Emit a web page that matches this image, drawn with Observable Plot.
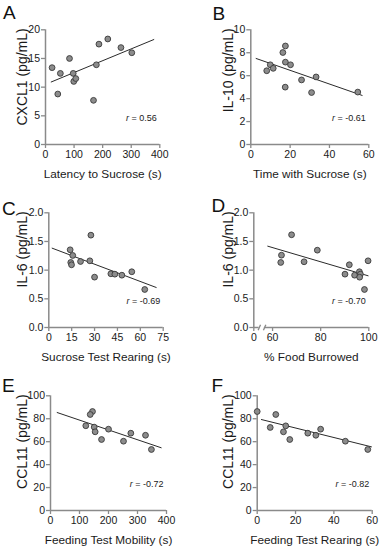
<!DOCTYPE html>
<html><head><meta charset="utf-8">
<script src="https://cdn.jsdelivr.net/npm/d3@7"></script>
<script src="https://cdn.jsdelivr.net/npm/@observablehq/plot@0.6"></script>
<style>
body{margin:0;background:#fff;}
#fig{position:relative;width:382px;height:550px;font-family:"Liberation Sans",Arial,sans-serif;overflow:hidden;}
.panel{position:absolute;}
.letter{position:absolute;font-size:19px;line-height:1;color:#111;font-family:"Liberation Sans",Arial,sans-serif;}
</style></head><body><div id="fig"></div>
<script>
// ---------- data ----------
const panelLetters = ["A", "B", "C", "D", "E", "F"];
const xLabels = ["Latency to Sucrose (s)", "Time with Sucrose (s)", "Sucrose Test Rearing (s)", "% Food Burrowed", "Feeding Test Mobility (s)", "Feeding Test Rearing (s)"];
const yLabels = ["CXCL1 (pg/mL)", "IL-10 (pg/mL)", "IL-6 (pg/mL)", "IL-6 (pg/mL)", "CCL11 (pg/mL)", "CCL11 (pg/mL)"];
const rValues = ["0.56", "-0.61", "-0.69", "-0.70", "-0.72", "-0.82"];

// A
const latencyA = [23, 43, 52, 84, 97, 99, 106, 168, 178, 187, 218, 264, 302];
const cxcl1A   = [13.4, 8.8, 12.4, 15.0, 12.4, 11.0, 11.5, 7.7, 13.9, 17.5, 18.4, 16.9, 16.0];
const fitXA = [20, 379], fitYA = [10.9, 18.3];
// B
const timeB = [8.1, 9.9, 11.4, 16.3, 17.6, 17.6, 17.5, 20.2, 25.8, 30.9, 33.2, 54.4];
const il10B = [6.43, 6.95, 6.64, 8.02, 8.59, 7.18, 5.0, 6.95, 5.63, 4.53, 5.89, 4.57];
const fitXB = [2.7, 56.6], fitYB = [7.5, 4.28];
// C
const rearingC = [14.0, 15.7, 14.4, 14.9, 20.8, 26.9, 27.6, 30.0, 40.7, 43.3, 47.9, 54.4, 62.9];
const il6C     = [1.355, 1.256, 1.134, 1.093, 1.151, 1.163, 1.61, 0.878, 0.937, 0.93, 0.912, 0.972, 0.663];
const fitXC = [2.2, 70.4], fitYC = [1.383, 0.698];
// D
const burrowD = [67.9, 63.7, 63.4, 73.1, 78.6, 91.9, 90.1, 94.1, 96.1, 96.5, 96.2, 99.7, 98.2];
const il6D    = [1.617, 1.261, 1.134, 1.146, 1.348, 1.094, 0.93, 0.912, 0.972, 0.93, 0.877, 1.163, 0.663];
const fitXD = [58.0, 99.7], fitYD = [1.418, 0.902];
// E
const mobilityE = [144.8, 137, 121.7, 150.7, 154, 176, 200, 251.7, 277, 327.6, 348];
const ccl11E    = [86.3, 83.7, 73.9, 72.7, 68.6, 61.9, 70.9, 60.4, 67.4, 65.6, 53.2];
const fitXE = [23, 381.6], fitYE = [85.4, 54.7];
// F
const rearingF = [0, 9.7, 6.8, 14.9, 13.7, 17.0, 26.4, 30.6, 33.1, 46.0, 57.7];
const ccl11F   = [86.3, 83.7, 72.4, 73.8, 68.6, 61.9, 67.4, 65.6, 70.9, 60.4, 53.2];
const fitXF = [2.2, 59.6], fitYF = [79.3, 55.5];

// axes
const xTicksA = [0, 100, 200, 300, 400], xTickLabelsA = ["0", "100", "200", "300", "400"];
const yTicksA = [0, 5, 10, 15, 20], yTickLabelsA = ["0", "5", "10", "15", "20"];
const xTicksB = [0, 20, 40, 60], xTickLabelsB = ["0", "20", "40", "60"];
const yTicksB = [0, 2, 4, 6, 8, 10], yTickLabelsB = ["0", "2", "4", "6", "8", "10"];
const xTicksC = [0, 15, 30, 45, 60, 75], xTickLabelsC = ["0", "15", "30", "45", "60", "75"];
const yTicksC = [0, 0.5, 1, 1.5, 2], yTickLabelsC = ["0.0", "0.5", "1.0", "1.5", "2.0"];
const xTicksD = [52.2, 60, 80, 100], xTickLabelsD = ["0", "60", "80", "100"];
const yTicksD = [0, 0.5, 1, 1.5, 2], yTickLabelsD = ["0.0", "0.5", "1.0", "1.5", "2.0"];
const xTicksE = [0, 100, 200, 300, 400], xTickLabelsE = ["0", "100", "200", "300", "400"];
const yTicksE = [0, 20, 40, 60, 80, 100], yTickLabelsE = ["0", "20", "40", "60", "80", "100"];
const xTicksF = [0, 20, 40, 60], xTickLabelsF = ["0", "20", "40", "60"];
const yTicksF = [0, 20, 40, 60, 80, 100], yTickLabelsF = ["0", "20", "40", "60", "80", "100"];
// broken x axis in D (axis pieces and the two break strokes, in data units)
const axisPiecesD = [[52.2, 54.4], [56.6, 100]];
const breakStrokesD = [[54.0, -0.05, 55.0, 0.05], [56.2, -0.05, 57.2, 0.05]];

// ---------- layout ----------
const PW = 191, PH = 183;
const panels = [
  {x: latencyA, y: cxcl1A, fx: fitXA, fy: fitYA, xt: xTicksA, xl: xTickLabelsA, yt: yTicksA, yl: yTickLabelsA, ml: 45, mr: 31.7, labX: 22},
  {x: timeB, y: il10B, fx: fitXB, fy: fitYB, xt: xTicksB, xl: xTickLabelsB, yt: yTicksB, yl: yTickLabelsB, ml: 59.3, mr: 13.7, labX: 37.3},
  {x: rearingC, y: il6C, fx: fitXC, fy: fitYC, xt: xTicksC, xl: xTickLabelsC, yt: yTicksC, yl: yTickLabelsC, ml: 48.3, mr: 28.3, labX: 21.7},
  {x: burrowD, y: il6D, fx: fitXD, fy: fitYD, xt: xTicksD, xl: xTickLabelsD, yt: yTicksD, yl: yTickLabelsD, ml: 62.3, mr: 13.7, labX: 37.3, broken: true},
  {x: mobilityE, y: ccl11E, fx: fitXE, fy: fitYE, xt: xTicksE, xl: xTickLabelsE, yt: yTicksE, yl: yTickLabelsE, ml: 50, mr: 25, labX: 21.7},
  {x: rearingF, y: ccl11F, fx: fitXF, fy: fitYF, xt: xTicksF, xl: xTickLabelsF, yt: yTicksF, yl: yTickLabelsF, ml: 65.7, mr: 10.3, labX: 37.3}
];
const letterPos = [[3, 2.5], [212.5, 3.5], [2, 198.5], [211.5, 195.5], [2, 375.5], [211.5, 375.5]];

const AXIS = "#8a8a8a", INK = "#1a1a1a";
const fig = document.getElementById("fig");
const ns = "http://www.w3.org/2000/svg";

panels.forEach((p, i) => {
  const pts = p.x.map((v, k) => ({x: v, y: p.y[k]}));
  const fit = p.fx.map((v, k) => ({x: v, y: p.fy[k]}));
  const xMin = p.xt[0], xMax = p.xt[p.xt.length - 1];
  const yMin = p.yt[0], yMax = p.yt[p.yt.length - 1];
  const xFmt = new Map(p.xt.map((t, k) => [t, p.xl[k]]));
  const yFmt = new Map(p.yt.map((t, k) => [t, p.yl[k]]));
  const marks = [
    Plot.axisY(p.yt, {anchor: "left", tickSize: 4, tickPadding: 1.5, stroke: AXIS, strokeWidth: 1.3, fill: INK, fontSize: 10.5, tickFormat: d => yFmt.get(d), label: null}),
    Plot.axisX(p.xt, {anchor: "bottom", tickSize: 4, tickPadding: 2, stroke: AXIS, strokeWidth: 1.3, fill: INK, fontSize: 10.5, tickFormat: d => xFmt.get(d), label: null}),
    Plot.ruleX([xMin], {y1: yMin, y2: yMax, stroke: AXIS, strokeWidth: 1.5})
  ];
  if (p.broken) {
    marks.push(Plot.ruleY(axisPiecesD, {y: () => yMin, x1: d => d[0], x2: d => d[1], stroke: AXIS, strokeWidth: 1.5}));
    marks.push(Plot.link(breakStrokesD, {x1: d => d[0], y1: d => d[1], x2: d => d[2], y2: d => d[3], stroke: AXIS, strokeWidth: 1.3}));
  } else {
    marks.push(Plot.ruleY([yMin], {x1: xMin, x2: xMax, stroke: AXIS, strokeWidth: 1.5}));
  }
  marks.push(
    Plot.line(fit, {x: "x", y: "y", stroke: "#2a2a2a", strokeWidth: 1}),
    Plot.dot(pts, {x: "x", y: "y", r: 2.9, fill: "#8c8c8c", stroke: "#3a3a3a", strokeWidth: 0.9}),
    Plot.text(["r = " + rValues[i]], {frameAnchor: "bottom-right", dx: -3, dy: -26, textAnchor: "end", lineAnchor: "middle", fontSize: 9, fill: INK}),
    Plot.text([xLabels[i]], {frameAnchor: "bottom", dy: 30, lineAnchor: "middle", textAnchor: "middle", fontSize: 11.8, fill: INK}),
    Plot.text([yLabels[i]], {frameAnchor: "top-left", dx: p.labX - p.ml, dy: -1.5, rotate: -90, textAnchor: "end", lineAnchor: "middle", fontSize: 14, fill: INK})
  );
  const svg = Plot.plot({
    width: PW, height: PH,
    marginLeft: p.ml, marginRight: p.mr, marginTop: 29.3, marginBottom: 39,
    style: {fontFamily: '"Liberation Sans", Arial, sans-serif', background: "transparent", overflow: "visible"},
    x: {domain: [xMin, xMax]},
    y: {domain: [yMin, yMax]},
    marks
  });
  // italic "r" in the correlation label
  svg.querySelectorAll("text").forEach(t => {
    if (t.textContent.startsWith("r = ")) {
      const rest = t.textContent.slice(1);
      t.textContent = "";
      const a = document.createElementNS(ns, "tspan");
      a.setAttribute("font-style", "italic");
      a.textContent = "r";
      const b = document.createElementNS(ns, "tspan");
      b.textContent = rest;
      t.append(a, b);
    }
  });
  const col = i % 2, row = Math.floor(i / 2);
  svg.classList.add("panel");
  svg.style.left = (col * PW) + "px";
  svg.style.top = (row * PH) + "px";
  fig.appendChild(svg);
  const L = document.createElement("div");
  L.className = "letter";
  L.textContent = panelLetters[i];
  L.style.left = letterPos[i][0] + "px";
  L.style.top = letterPos[i][1] + "px";
  fig.appendChild(L);
});
</script>
</body></html>
